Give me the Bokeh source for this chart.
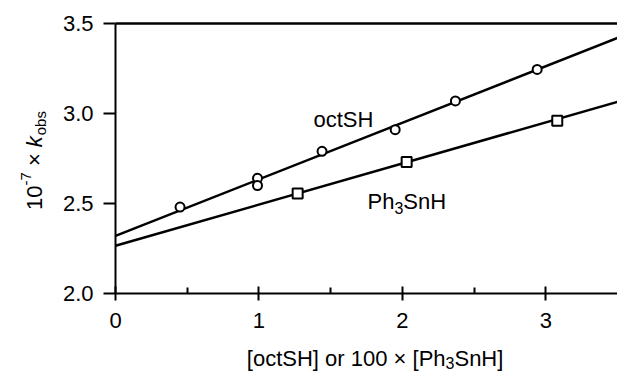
import math
from bokeh.plotting import figure
from bokeh.models import Range1d, FixedTicker, Label, PrintfTickFormatter
from bokeh.embed import file_html
from bokeh.resources import INLINE

# ---- data ----
oct_x = [0.45, 0.99, 0.99, 1.44, 1.95, 2.37, 2.94]
oct_y = [2.48, 2.64, 2.60, 2.79, 2.91, 3.07, 3.245]
ph_x = [1.27, 2.03, 3.08]
ph_y = [2.555, 2.73, 2.96]
fit_x = [0.0, 3.5]
oct_fit_y = [2.32, 3.42]
ph_fit_y = [2.265, 3.065]
x_ticks = [0, 1, 2, 3]
x_minor = [0.5, 1.5, 2.5]
y_ticks = [2.0, 2.5, 3.0, 3.5]
X_MIN, X_MAX = 0.0, 3.5
Y_MIN, Y_MAX = 2.0, 3.5

FONT = "Liberation Sans"
FS = 22
SUB = 16

# layout: plot box at pixels x 115..617, y 23..293 inside a 617x371 canvas
W_PX, H_PX = 617, 371
BOX_L, BOX_T, BOX_B = 115, 23, 293
xs = (W_PX - BOX_L) / (X_MAX - X_MIN)
ys = (BOX_B - BOX_T) / (Y_MAX - Y_MIN)
xr = Range1d(X_MIN - BOX_L / xs, X_MAX)
yr = Range1d(Y_MIN - (H_PX - BOX_B) / ys, Y_MAX + BOX_T / ys)

p = figure(width=W_PX, height=H_PX, output_backend="svg", toolbar_location=None,
           x_range=xr, y_range=yr, min_border=0)
p.outline_line_color = None
p.grid.grid_line_color = None
p.background_fill_color = "white"

p.xaxis.fixed_location = Y_MIN
p.yaxis.fixed_location = X_MIN
p.xaxis.bounds = (X_MIN, X_MAX)
p.yaxis.bounds = (Y_MIN, Y_MAX)
p.xaxis.ticker = FixedTicker(ticks=x_ticks, minor_ticks=x_minor)
p.yaxis.ticker = FixedTicker(ticks=y_ticks)
p.yaxis.formatter = PrintfTickFormatter(format="%.1f")
for ax in (p.xaxis, p.yaxis):
    ax.axis_line_width = 2
    ax.axis_line_color = "black"
    ax.major_tick_line_width = 2
    ax.major_tick_line_color = "black"
    ax.major_label_text_font = FONT
    ax.major_label_text_font_size = f"{FS}px"
    ax.major_label_text_color = "black"
p.xaxis.major_tick_in = 7
p.xaxis.major_tick_out = 7
p.xaxis.minor_tick_in = 6
p.xaxis.minor_tick_out = 0
p.xaxis.minor_tick_line_width = 2
p.xaxis.minor_tick_line_color = "black"
p.xaxis.major_label_standoff = 12
p.yaxis.major_tick_in = 0
p.yaxis.major_tick_out = 12
p.yaxis.minor_tick_line_color = None
p.yaxis.major_label_standoff = 10

# top border of the plot box
p.line([X_MIN, X_MAX], [Y_MAX, Y_MAX], line_color="black", line_width=2.5)

p.line(fit_x, oct_fit_y, line_color="black", line_width=2.5)
p.line(fit_x, ph_fit_y, line_color="black", line_width=2.5)
p.scatter(oct_x, oct_y, marker="circle", size=9, fill_color="white",
          line_color="black", line_width=2)
p.scatter(ph_x, ph_y, marker="square", size=10, fill_color="white",
          line_color="black", line_width=2)

# ---- rich text made of plain text pieces ----
W = {'[': .278, ']': .278, 'o': .556, 'c': .5, 't': .278, 'S': .667, 'H': .722,
     ' ': .278, 'r': .333, '1': .556, '0': .556, '×': .584, 'P': .667, 'h': .556,
     '3': .556, 'n': .556, '-': .333, '7': .556, 'k': .5, 'b': .556, 's': .5}


def tw(t, size):
    return sum(W.get(ch, .556) for ch in t) * size


def rich(x, y, pieces, rotated=False, center=False):
    """pieces: (text, size, baseline shift, style, gap after)"""
    total = sum(tw(t, s) + g for t, s, _, _, g in pieces)
    off = -total / 2 if center else 0
    for t, s, shift, style, gap in pieces:
        kw = dict(x=x, y=y, text=t, text_font=FONT, text_font_size=f"{s}px",
                  text_font_style=style, text_color="black",
                  text_align="left", text_baseline="alphabetic")
        if rotated:
            lab = Label(x_offset=-shift, y_offset=off, angle=math.pi / 2, **kw)
        else:
            lab = Label(x_offset=off, y_offset=shift, **kw)
        p.add_layout(lab)
        off += tw(t, s) + gap


rich(1.38, 2.967, [("octSH", FS, 0, "normal", 0)])
rich(1.757, 2.511, [("Ph", FS, 0, "normal", 0), ("3", SUB, -6, "normal", 0),
                    ("SnH", FS, 0, "normal", 0)])

# x axis title
rich(1.81, 1.639, [("[octSH] or 100 × [Ph", FS, 0, "normal", 0),
                   ("3", SUB, -5, "normal", 0),
                   ("SnH]", FS, 0, "normal", 0)], center=True)
# y axis title
rich(-0.565, 2.739, [("10", FS, 0, "normal", 0), ("-7", 15, 8, "normal", 6),
                     ("×", FS, 0, "normal", 6), ("k", FS, 0, "italic", 1),
                     ("obs", 15, -6, "normal", 0)], rotated=True, center=True)

open("out.html", "w").write(file_html(p, INLINE))
